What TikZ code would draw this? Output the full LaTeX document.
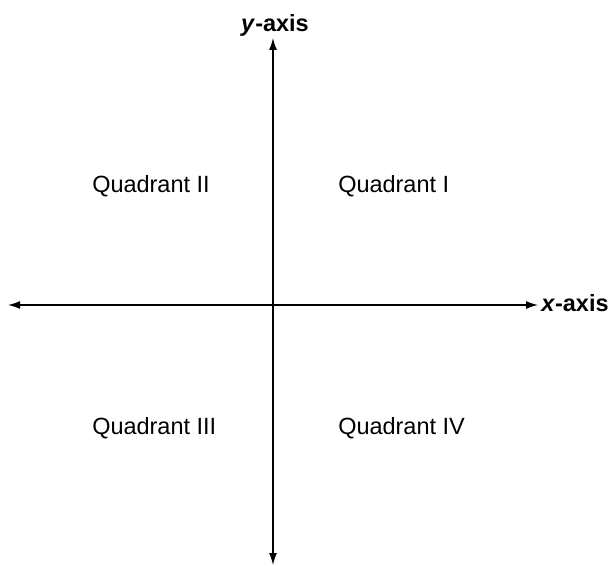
\documentclass[tikz,border=0pt]{standalone}
\usepackage{fontspec}
\setmainfont{Liberation Sans}
\usetikzlibrary{arrows.meta, positioning}

\begin{document}
\begin{tikzpicture}[x=0.75pt, y=-0.75pt, >={Latex[length=9pt, width=6pt]},
    font=\fontsize{17.6}{20}\selectfont,
    axis/.style={line width=1pt, <->},
    quad/.style={anchor=base west, inner sep=0pt},
    axislabel/.style={font=\fontsize{17.6}{20}\selectfont\bfseries, inner sep=0pt}]
  \useasboundingbox (0,0) rectangle (609,566);

  % Osy
  \coordinate (xl) at (8,305);
  \coordinate (xr) at (538,305);
  \coordinate (yt) at (273,38);
  \coordinate (yb) at (273,565);
  \draw[axis] (xl) -- (xr);
  \draw[axis] (yb) -- (yt);

  % Popisky os
  \node[axislabel, anchor=base west] (xlab) at (541,311) {\textit{x}-axis};
  \node[axislabel, anchor=base] (ylab) at (275,32) {\textit{y}-axis};

  % Kvadranty
  \node[quad] (q2) at (92,193) {Quadrant II};
  \node[quad] (q1) at (338,193) {Quadrant I};
  \node[quad] (q3) at (92,434) {Quadrant III};
  \node[quad] (q4) at (338,434) {Quadrant IV};
\end{tikzpicture}
\end{document}
